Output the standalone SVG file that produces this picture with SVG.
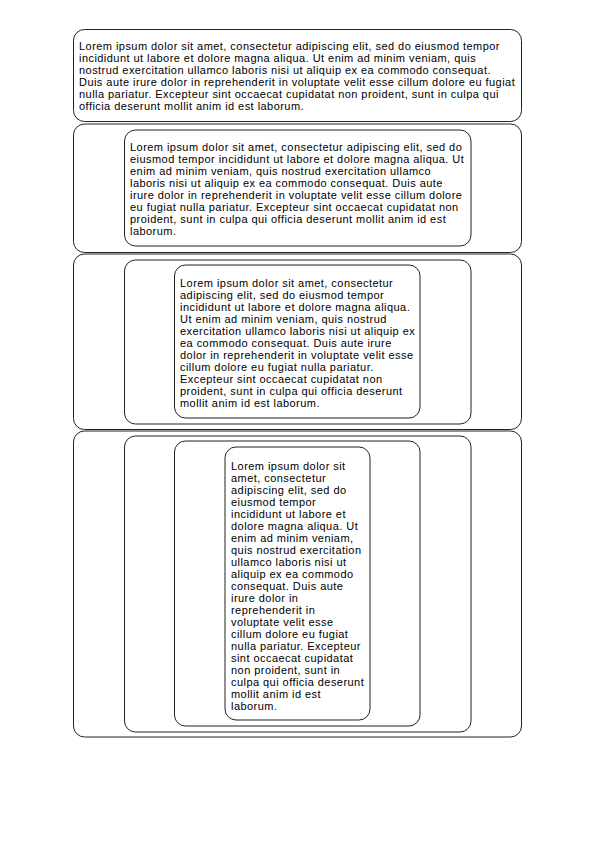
<svg xmlns="http://www.w3.org/2000/svg" width="595" height="842" viewBox="0 0 595 842">
<style>
.box{fill:none;stroke:#222;stroke-width:1}
.t{font-family:"Liberation Sans",Arial,sans-serif;font-size:11px;letter-spacing:0.45px;fill:#000}
</style>
<rect width="595" height="842" fill="#fff"/>
<g id="node1">
<rect class="box" x="73.5" y="29.5" width="448" height="92" rx="11"/>
<text class="t">
<tspan x="79" y="50">Lorem ipsum dolor sit amet, consectetur adipiscing elit, sed do eiusmod tempor</tspan>
<tspan x="79" y="62">incididunt ut labore et dolore magna aliqua. Ut enim ad minim veniam, quis</tspan>
<tspan x="79" y="74">nostrud exercitation ullamco laboris nisi ut aliquip ex ea commodo consequat.</tspan>
<tspan x="79" y="86">Duis aute irure dolor in reprehenderit in voluptate velit esse cillum dolore eu fugiat</tspan>
<tspan x="79" y="98">nulla pariatur. Excepteur sint occaecat cupidatat non proident, sunt in culpa qui</tspan>
<tspan x="79" y="110">officia deserunt mollit anim id est laborum.</tspan>
</text>
</g>
<g id="node2">
<rect class="box" x="73.5" y="124" width="448" height="128.5" rx="11"/>
<g id="node2-inner">
<rect class="box" x="124.5" y="130" width="346.5" height="116" rx="11"/>
<text class="t">
<tspan x="130" y="151">Lorem ipsum dolor sit amet, consectetur adipiscing elit, sed do</tspan>
<tspan x="130" y="163">eiusmod tempor incididunt ut labore et dolore magna aliqua. Ut</tspan>
<tspan x="130" y="175">enim ad minim veniam, quis nostrud exercitation ullamco</tspan>
<tspan x="130" y="187">laboris nisi ut aliquip ex ea commodo consequat. Duis aute</tspan>
<tspan x="130" y="199">irure dolor in reprehenderit in voluptate velit esse cillum dolore</tspan>
<tspan x="130" y="211">eu fugiat nulla pariatur. Excepteur sint occaecat cupidatat non</tspan>
<tspan x="130" y="223">proident, sunt in culpa qui officia deserunt mollit anim id est</tspan>
<tspan x="130" y="235">laborum.</tspan>
</text>
</g>
</g>
<g id="node3">
<rect class="box" x="73.5" y="254" width="448" height="175.5" rx="11"/>
<g id="node3-l2">
<rect class="box" x="124.5" y="260" width="346.5" height="164" rx="11"/>
<g id="node3-l3">
<rect class="box" x="174.5" y="265" width="245.5" height="153" rx="11"/>
<text class="t">
<tspan x="180" y="287">Lorem ipsum dolor sit amet, consectetur</tspan>
<tspan x="180" y="299">adipiscing elit, sed do eiusmod tempor</tspan>
<tspan x="180" y="311">incididunt ut labore et dolore magna aliqua.</tspan>
<tspan x="180" y="323">Ut enim ad minim veniam, quis nostrud</tspan>
<tspan x="180" y="335">exercitation ullamco laboris nisi ut aliquip ex</tspan>
<tspan x="180" y="347">ea commodo consequat. Duis aute irure</tspan>
<tspan x="180" y="359">dolor in reprehenderit in voluptate velit esse</tspan>
<tspan x="180" y="371">cillum dolore eu fugiat nulla pariatur.</tspan>
<tspan x="180" y="383">Excepteur sint occaecat cupidatat non</tspan>
<tspan x="180" y="395">proident, sunt in culpa qui officia deserunt</tspan>
<tspan x="180" y="407">mollit anim id est laborum.</tspan>
</text>
</g>
</g>
</g>
<g id="node4">
<rect class="box" x="73.5" y="431" width="448" height="306" rx="11"/>
<g id="node4-l2">
<rect class="box" x="124.5" y="436" width="346.5" height="296" rx="11"/>
<g id="node4-l3">
<rect class="box" x="174.5" y="441" width="245.5" height="285" rx="11"/>
<g id="node4-l4">
<rect class="box" x="225" y="447" width="145" height="273" rx="11"/>
<text class="t">
<tspan x="231" y="469.5">Lorem ipsum dolor sit</tspan>
<tspan x="231" y="481.5">amet, consectetur</tspan>
<tspan x="231" y="493.5">adipiscing elit, sed do</tspan>
<tspan x="231" y="505.5">eiusmod tempor</tspan>
<tspan x="231" y="517.5">incididunt ut labore et</tspan>
<tspan x="231" y="529.5">dolore magna aliqua. Ut</tspan>
<tspan x="231" y="541.5">enim ad minim veniam,</tspan>
<tspan x="231" y="553.5">quis nostrud exercitation</tspan>
<tspan x="231" y="565.5">ullamco laboris nisi ut</tspan>
<tspan x="231" y="577.5">aliquip ex ea commodo</tspan>
<tspan x="231" y="589.5">consequat. Duis aute</tspan>
<tspan x="231" y="601.5">irure dolor in</tspan>
<tspan x="231" y="613.5">reprehenderit in</tspan>
<tspan x="231" y="625.5">voluptate velit esse</tspan>
<tspan x="231" y="637.5">cillum dolore eu fugiat</tspan>
<tspan x="231" y="649.5">nulla pariatur. Excepteur</tspan>
<tspan x="231" y="661.5">sint occaecat cupidatat</tspan>
<tspan x="231" y="673.5">non proident, sunt in</tspan>
<tspan x="231" y="685.5">culpa qui officia deserunt</tspan>
<tspan x="231" y="697.5">mollit anim id est</tspan>
<tspan x="231" y="709.5">laborum.</tspan>
</text>
</g>
</g>
</g>
</g>
<g id="connectors"/>
</svg>
